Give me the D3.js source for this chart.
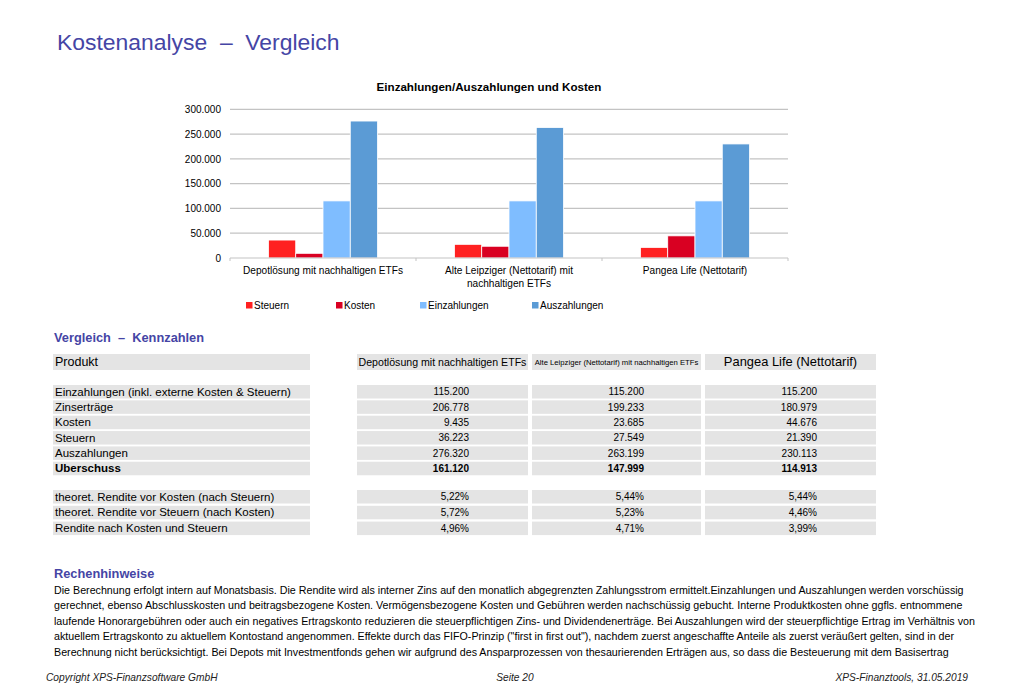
<!DOCTYPE html>
<html><head><meta charset="utf-8">
<script src="https://cdn.jsdelivr.net/npm/d3@7"></script>
<style>
body{margin:0;background:#fff;}
svg{display:block;font-family:"Liberation Sans",Arial,sans-serif;}
</style></head>
<body>
<svg id="c" width="1024" height="698"></svg>
<script>
// ---- data ----
const categories = ["Depotlösung mit nachhaltigen ETFs", "Alte Leipziger (Nettotarif) mit nachhaltigen ETFs", "Pangea Life (Nettotarif)"];
const categoryLines = [["Depotlösung mit nachhaltigen ETFs"], ["Alte Leipziger (Nettotarif) mit", "nachhaltigen ETFs"], ["Pangea Life (Nettotarif)"]];
const seriesNames = ["Steuern", "Kosten", "Einzahlungen", "Auszahlungen"];
const steuern = [36223, 27549, 21390];
const kosten = [9435, 23685, 44676];
const einzahlungen = [115200, 115200, 115200];
const auszahlungen = [276320, 263199, 230113];
const yTicks = [0, 50000, 100000, 150000, 200000, 250000, 300000];
const seriesColors = ["#ff2121", "#d90022", "#7fbdff", "#5b9bd5"];

const tableLabels1 = ["Einzahlungen (inkl. externe Kosten & Steuern)", "Zinserträge", "Kosten", "Steuern", "Auszahlungen", "Uberschuss"];
const tableValues1Depot = ["115.200", "206.778", "9.435", "36.223", "276.320", "161.120"];
const tableValues1Alte = ["115.200", "199.233", "23.685", "27.549", "263.199", "147.999"];
const tableValues1Pangea = ["115.200", "180.979", "44.676", "21.390", "230.113", "114.913"];
const tableLabels2 = ["theoret. Rendite vor Kosten (nach Steuern)", "theoret. Rendite vor Steuern (nach Kosten)", "Rendite nach Kosten und Steuern"];
const tableValues2Depot = ["5,22%", "5,72%", "4,96%"];
const tableValues2Alte = ["5,44%", "5,23%", "4,71%"];
const tableValues2Pangea = ["5,44%", "4,46%", "3,99%"];

const noteLines = [
 "Die Berechnung erfolgt intern auf Monatsbasis. Die Rendite wird als interner Zins auf den monatlich abgegrenzten Zahlungsstrom ermittelt.Einzahlungen und Auszahlungen werden vorschüssig",
 "gerechnet, ebenso Abschlusskosten und beitragsbezogene Kosten. Vermögensbezogene Kosten und Gebühren werden nachschüssig gebucht. Interne Produktkosten ohne ggfls. entnommene",
 "laufende Honorargebühren oder auch ein negatives Ertragskonto reduzieren die steuerpflichtigen Zins- und Dividendenerträge. Bei Auszahlungen wird der steuerpflichtige Ertrag im Verhältnis von",
 "aktuellem Ertragskonto zu aktuellem Kontostand angenommen. Effekte durch das FIFO-Prinzip (\"first in first out\"), nachdem zuerst angeschaffte Anteile als zuerst veräußert gelten, sind in der",
 "Berechnung nicht berücksichtigt. Bei Depots mit Investmentfonds gehen wir aufgrund des Ansparprozessen von thesaurierenden Erträgen aus, so dass die Besteuerung mit dem Basisertrag"
];

// ---- drawing ----
const svg = d3.select("#c");
const accent = "#4545a5";

svg.append("text").attr("x", 57).attr("y", 50).attr("font-size", 22.9).attr("fill", accent)
  .attr("xml:space", "preserve").text("Kostenanalyse  –  Vergleich");

// chart
const x0 = d3.scaleBand().domain(categories).range([230, 788]).paddingInner(0).paddingOuter(0);
const x1 = d3.scaleBand().domain(seriesNames).range([0, x0.bandwidth()]).paddingInner(0).paddingOuter(1.41);
const y = d3.scaleLinear().domain([0, 300000]).range([258, 109.3]);

svg.append("text").attr("x", 489).attr("y", 91).attr("text-anchor", "middle")
  .attr("font-size", 11.6).attr("font-weight", "bold").text("Einzahlungen/Auszahlungen und Kosten");

const fmt = d3.formatLocale({decimal: ",", thousands: ".", grouping: [3], currency: ["", "€"]}).format(",");

const gy = svg.append("g").attr("transform", "translate(230,0)")
  .call(d3.axisLeft(y).tickValues(yTicks).tickSize(0).tickPadding(9).tickFormat(fmt));
gy.select(".domain").remove();
gy.selectAll("text").attr("font-size", 10).attr("font-family", "Liberation Sans, Arial, sans-serif").attr("fill", "#000");

svg.append("g").selectAll("line").data(yTicks.filter(d => d > 0)).join("line")
  .attr("x1", 230).attr("x2", 788).attr("y1", d => y(d)).attr("y2", d => y(d))
  .attr("stroke", "#c3c3c3").attr("stroke-width", 1.2);

const seriesData = [steuern, kosten, einzahlungen, auszahlungen];
const groups = svg.append("g").selectAll("g").data(categories).join("g")
  .attr("transform", d => `translate(${x0(d)},0)`);
groups.selectAll("rect").data((d, i) => seriesNames.map((s, k) => ({s, v: seriesData[k][i], k}))).join("rect")
  .attr("x", d => x1(d.s)).attr("width", x1.bandwidth())
  .attr("y", d => y(d.v)).attr("height", d => y(0) - y(d.v))
  .attr("fill", d => seriesColors[d.k]).attr("stroke", "#fff").attr("stroke-width", 0.8);

// x axis
const gx = svg.append("g").attr("transform", `translate(0,${y(0)})`);
gx.append("line").attr("x1", 230).attr("x2", 788).attr("stroke", "#c3c3c3").attr("stroke-width", 1.2);
gx.selectAll("line.t").data([230, 788].concat(categories.slice(1).map(c => x0(c)))).join("line").attr("class", "t")
  .attr("x1", d => d).attr("x2", d => d).attr("y1", 0).attr("y2", 3).attr("stroke", "#c3c3c3");
gx.selectAll("text").data(categories).join("text")
  .attr("x", d => x0(d) + x0.bandwidth() / 2).attr("y", 16).attr("text-anchor", "middle").attr("font-size", 10.1)
  .selectAll("tspan").data((d, i) => categoryLines[i]).join("tspan")
  .attr("x", function() { const c = d3.select(this.parentNode).datum(); return x0(c) + x0.bandwidth() / 2; })
  .attr("dy", (d, j) => j === 0 ? 0 : 12.5).text(d => d);

// legend
const legX = [246, 336, 420, 532];
const leg = svg.append("g").selectAll("g").data(seriesNames).join("g")
  .attr("transform", (d, i) => `translate(${legX[i]},302)`);
leg.append("rect").attr("width", 6.5).attr("height", 6.5).attr("fill", (d, i) => seriesColors[i]);
leg.append("text").attr("x", 8).attr("y", 7).attr("font-size", 10).text(d => d);

// table
svg.append("text").attr("x", 54).attr("y", 342).attr("font-size", 12.8).attr("font-weight", "bold")
  .attr("fill", accent).attr("xml:space", "preserve").text("Vergleich  –  Kennzahlen");

const gray = "#e4e4e4";
const colX = [[357, 528], [532, 701], [705, 876]];
const labelCol = [53, 310];

// header
svg.append("rect").attr("x", labelCol[0]).attr("y", 354).attr("width", labelCol[1] - labelCol[0]).attr("height", 16).attr("fill", gray);
svg.append("text").attr("x", 55).attr("y", 366).attr("font-size", 12.5).text("Produkt");
const headSizes = [10.6, 7.7, 12.9];
const headY = [366, 365, 366];
categories.forEach((c, i) => {
  svg.append("rect").attr("x", colX[i][0]).attr("y", 354).attr("width", colX[i][1] - colX[i][0]).attr("height", 16).attr("fill", gray);
  svg.append("text").attr("x", (colX[i][0] + colX[i][1]) / 2).attr("y", headY[i]).attr("text-anchor", "middle")
    .attr("font-size", headSizes[i]).text(c);
});

function drawRows(labels, cols, top, step, boldLast) {
  labels.forEach((lab, r) => {
    const ty = top + r * step;
    const bold = boldLast && r === labels.length - 1;
    svg.append("rect").attr("x", labelCol[0]).attr("y", ty).attr("width", labelCol[1] - labelCol[0]).attr("height", 13.5).attr("fill", gray);
    svg.append("text").attr("x", 55).attr("y", ty + 10.6).attr("font-size", 11.5)
      .attr("font-weight", bold ? "bold" : null).text(lab);
    cols.forEach((vals, i) => {
      svg.append("rect").attr("x", colX[i][0]).attr("y", ty).attr("width", colX[i][1] - colX[i][0]).attr("height", 13.5).attr("fill", gray);
      svg.append("text").attr("x", colX[i][0] + 112).attr("y", ty + 10.3).attr("text-anchor", "end").attr("font-size", 10)
        .attr("font-weight", bold ? "bold" : null).text(vals[r]);
    });
  });
}
drawRows(tableLabels1, [tableValues1Depot, tableValues1Alte, tableValues1Pangea], 385, 15.35, true);
drawRows(tableLabels2, [tableValues2Depot, tableValues2Alte, tableValues2Pangea], 490, 15.8, false);

// notes
svg.append("text").attr("x", 54).attr("y", 578).attr("font-size", 12.8).attr("font-weight", "bold")
  .attr("fill", accent).text("Rechenhinweise");
svg.append("g").selectAll("text").data(noteLines).join("text")
  .attr("x", 54).attr("y", (d, i) => 593.5 + i * 15.6).attr("font-size", 10.7).text(d => d);

// footer
const foot = svg.append("g").attr("font-size", 10.2).attr("font-style", "italic").attr("fill", "#222");
foot.append("text").attr("x", 46).attr("y", 681).text("Copyright XPS-Finanzsoftware GmbH");
foot.append("text").attr("x", 515).attr("y", 681).attr("text-anchor", "middle").text("Seite 20");
foot.append("text").attr("x", 968).attr("y", 681).attr("text-anchor", "end").text("XPS-Finanztools, 31.05.2019");
</script>
</body></html>
